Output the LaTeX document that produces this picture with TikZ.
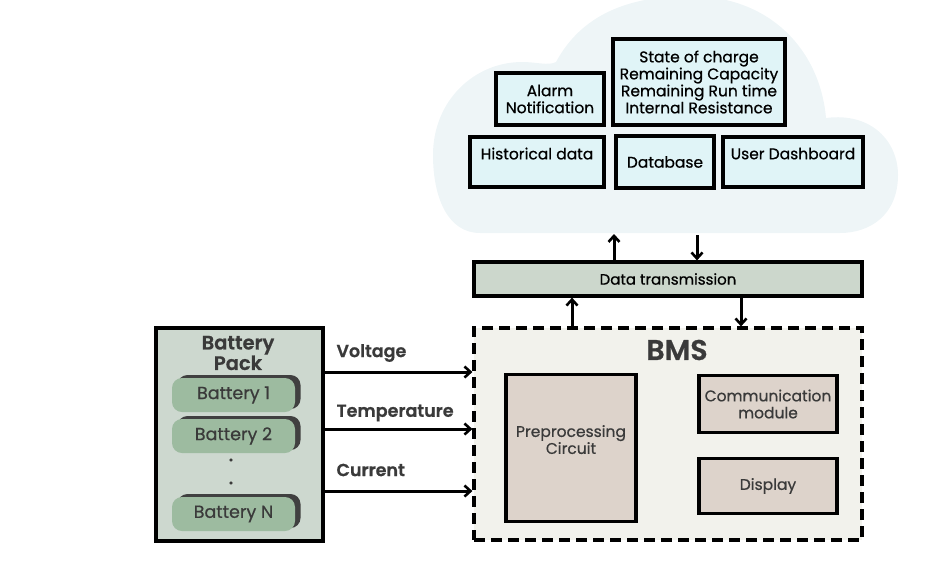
\documentclass[tikz,border=0pt]{standalone}
\usepackage{fontspec}
\setmainfont{Poppins}[FakeBold=0.6]
\newfontfamily\boldf{Poppins SemiBold}[FakeBold=0.8]
\usetikzlibrary{arrows.meta}
\definecolor{txt}{HTML}{3A3A3A}
\definecolor{packbg}{HTML}{CDD8CF}
\definecolor{pill}{HTML}{9DBBA0}
\definecolor{pillsh}{HTML}{404040}
\definecolor{bmsbg}{HTML}{F2F2EC}
\definecolor{beige}{HTML}{DDD3CB}
\definecolor{dtbg}{HTML}{CCD7CC}
\definecolor{cyanbox}{HTML}{E0F4F7}
\definecolor{cloudbg}{HTML}{EEF5F7}
\tikzset{
  box/.style={draw=black, line width=3.2pt, inner sep=2pt, align=center, font=\fontsize{15.5}{17}\selectfont, text=black},
  cbox/.style={box, fill=cyanbox},
  bbox/.style={box, fill=beige, text=txt},
  pillbox/.style={fill=pill, rounded corners=10pt, minimum width=123pt, minimum height=34pt, text=txt, font=\fontsize{17.5}{19}\selectfont},
  pillshadow/.style={fill=pillsh, rounded corners=10pt, minimum width=123pt, minimum height=34pt},
  lbl/.style={font=\boldf\fontsize{17.5}{19}\selectfont, text=txt, anchor=west},
  arr/.style={line width=3pt, -{Straight Barb[length=6pt,width=11pt,line width=2.6pt]}},
}
\begin{document}
\begin{tikzpicture}[x=1pt,y=-1pt]
\useasboundingbox (0,0) rectangle (952,574);
% cloud
\fill[cloudbg] (480,233) .. controls (448,233) and (433,198) .. (433,155)
  .. controls (433,100) and (475,62) .. (522,62)
  .. controls (537,62) and (548,66) .. (556,62)
  .. controls (585,8) and (640,-4) .. (690,-4)
  .. controls (770,-4) and (820,50) .. (826,118)
  .. controls (872,112) and (898,142) .. (898,175)
  .. controls (898,215) and (870,233) .. (840,233) -- cycle;
% cloud boxes
\node[cbox, minimum width=108pt, minimum height=52pt] (alarm) at (550,99) {Alarm\\Notification};
\node[cbox, minimum width=172pt, minimum height=86pt] (soc) at (699,82) {State of charge\\Remaining Capacity\\Remaining Run time\\Internal Resistance};
\node[cbox, minimum width=134pt, minimum height=50pt] (hist) at (537,162) {Historical data\\[0pt]~};
\node[cbox, minimum width=98pt, minimum height=52pt] (db) at (665,162) {Database};
\node[cbox, minimum width=140pt, minimum height=50pt] (dash) at (793,162) {User Dashboard\\[0pt]~};
% data transmission
\node[box, fill=dtbg, minimum width=388pt, minimum height=34pt, font=\fontsize{15}{17}\selectfont] (dt) at (668,279) {Data transmission};
\coordinate (cl1) at (614,234);
\coordinate (cl2) at (697,235);
\draw[arr] (dt.north -| cl1) -- (cl1);
\draw[arr] (cl2) -- (dt.north -| cl2);
% BMS
\node[draw=black, dash pattern=on 11pt off 6pt, line width=3.2pt, fill=bmsbg, minimum width=388pt, minimum height=212pt] (bms) at (668,434) {};
\node[font=\boldf\fontsize{28.5}{30}\selectfont, text=txt] (bmst) at (677,350) {BMS};
\draw[arr] (bms.north -| 572,0) -- (dt.south -| 572,0);
\draw[arr] (dt.south -| 741,0) -- (bms.north -| 741,0);
\node[bbox, minimum width=130pt, minimum height=147pt] (pre) at (571,448) {Preprocessing\\Circuit\\~};
\node[bbox, minimum width=138pt, minimum height=57pt] (comm) at (768,404) {Communication\\module};
\node[bbox, minimum width=138pt, minimum height=55pt] (disp) at (768,486) {Display};
% battery pack
\node[draw=black, line width=3.2pt, fill=packbg, minimum width=167pt, minimum height=213pt] (pack) at (239.5,434.5) {};
\node[font=\boldf\fontsize{19.5}{20.5}\selectfont, text=txt, align=center] (packt) at (238,353) {Battery\\Pack};
\node[pillshadow] (s1) at (239,392) {};
\node[pillbox] (b1) at (233.5,395) {Battery 1};
\node[pillshadow] (s2) at (239,433) {};
\node[pillbox] (b2) at (233.5,436) {Battery 2};
\node[font=\boldf\fontsize{16}{18}\selectfont, text=txt] (d1) at (231,460) {.};
\node[font=\boldf\fontsize{16}{18}\selectfont, text=txt] (d2) at (231,483) {.};
\node[pillshadow] (s3) at (239,511) {};
\node[pillbox] (bn) at (233.5,514) {Battery N};
% signals
\draw[arr] (pack.east |- 0,372) -- (bms.west |- 0,372);
\draw[arr] (pack.east |- 0,429) -- (bms.west |- 0,429);
\draw[arr] (pack.east |- 0,491) -- (bms.west |- 0,491);
\node[lbl] (lv) at (333,353) {Voltage};
\node[lbl] (lt) at (333,413) {Temperature};
\node[lbl] (lc) at (333,470) {Current};
\end{tikzpicture}
\end{document}
